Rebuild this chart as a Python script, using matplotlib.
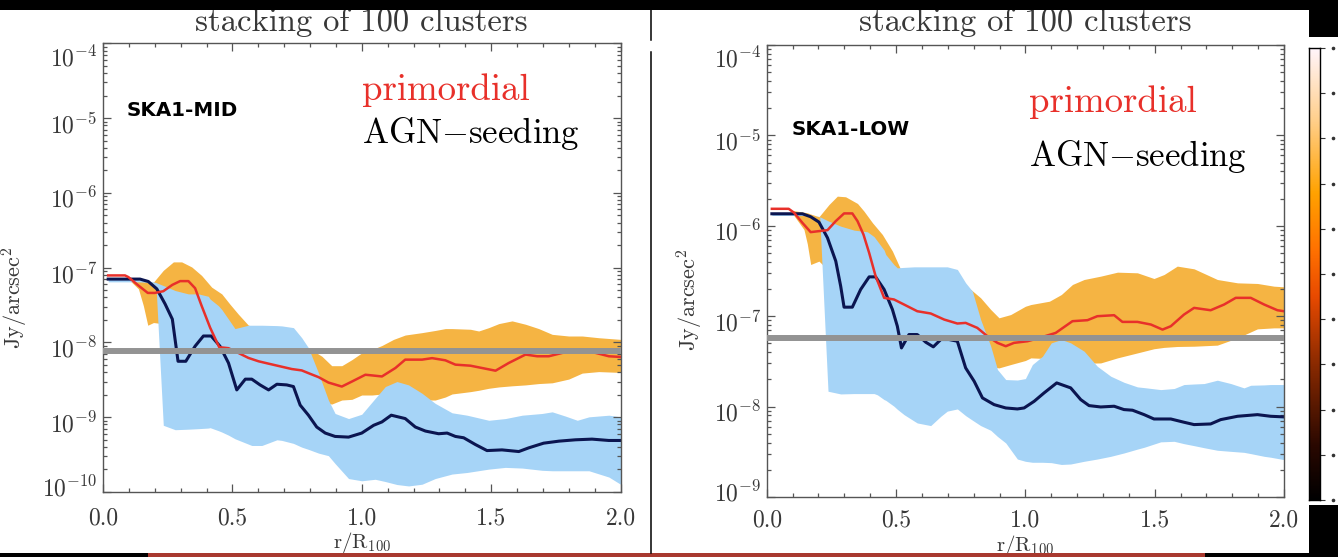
import numpy as np
import matplotlib
matplotlib.use("Agg")
import matplotlib.pyplot as plt
from matplotlib.colors import LinearSegmentedColormap
from matplotlib.lines import Line2D
from matplotlib.patches import Rectangle
from matplotlib.ticker import LogLocator, MultipleLocator, FormatStrFormatter, NullFormatter
from matplotlib.transforms import ScaledTranslation

plt.rcParams['font.family'] = 'cmr10'
plt.rcParams['mathtext.fontset'] = 'cm'
plt.rcParams['axes.formatter.use_mathtext'] = True
plt.rcParams['axes.unicode_minus'] = False

# ---- data: log10(Jy/arcsec^2) vs r/R100 ----
# SKA1-MID
mid_agn_x = [0.02, 0.143, 0.175, 0.208, 0.24, 0.268, 0.29, 0.32, 0.356, 0.388, 0.418, 0.452,
             0.485, 0.517, 0.55, 0.575, 0.607, 0.64, 0.672, 0.71, 0.736, 0.762, 0.794, 0.826,
             0.859, 0.897, 0.949, 1.0, 1.046, 1.078, 1.114, 1.168, 1.207, 1.246, 1.297, 1.33,
             1.362, 1.394, 1.439, 1.484, 1.542, 1.607, 1.645, 1.703, 1.762, 1.826, 1.89, 1.955, 2.0]
mid_agn = [-7.153, -7.153, -7.185, -7.284, -7.486, -7.689, -8.252, -8.252, -8.050, -7.914, -7.914,
           -8.050, -8.275, -8.635, -8.491, -8.491, -8.568, -8.635, -8.559, -8.568, -8.590, -8.838,
           -8.973, -9.131, -9.212, -9.257, -9.266, -9.212, -9.108, -9.063, -8.973, -9.018, -9.131,
           -9.185, -9.221, -9.212, -9.257, -9.275, -9.365, -9.446, -9.437, -9.459, -9.410, -9.347,
           -9.320, -9.302, -9.293, -9.311, -9.311]

mid_prim_x = [0.02, 0.085, 0.098, 0.137, 0.173, 0.2, 0.233, 0.268, 0.298, 0.33, 0.356, 0.381,
              0.414, 0.449, 0.485, 0.523, 0.562, 0.601, 0.64, 0.685, 0.73, 0.768, 0.8, 0.833,
              0.871, 0.923, 0.962, 1.014, 1.04, 1.078, 1.13, 1.168, 1.233, 1.272, 1.323, 1.362,
              1.42, 1.465, 1.517, 1.568, 1.633, 1.678, 1.723, 1.775, 1.852, 1.904, 1.955, 2.0]
mid_prim = [-7.104, -7.104, -7.126, -7.239, -7.338, -7.338, -7.315, -7.230, -7.180, -7.180, -7.275,
            -7.509, -7.802, -8.063, -8.077, -8.140, -8.207, -8.252, -8.284, -8.320, -8.356, -8.374,
            -8.419, -8.464, -8.536, -8.590, -8.523, -8.432, -8.441, -8.455, -8.342, -8.230, -8.230,
            -8.210, -8.239, -8.297, -8.311, -8.342, -8.378, -8.275, -8.162, -8.185, -8.185, -8.140,
            -8.095, -8.140, -8.185, -8.194]

mid_prim_band_x = [0.09, 0.137, 0.156, 0.173, 0.195, 0.233, 0.272, 0.304, 0.343, 0.381, 0.42,
                   0.459, 0.49, 0.523, 0.562, 0.62, 0.70, 0.794, 0.846, 0.884, 0.923, 0.962, 1.0,
                   1.04, 1.078, 1.123, 1.168, 1.233, 1.284, 1.323, 1.349, 1.42, 1.452, 1.491, 1.53,
                   1.581, 1.633, 1.684, 1.736, 1.8, 1.852, 1.916, 2.0]
mid_prim_hi = [-7.117, -7.171, -7.18, -7.19, -7.194, -7.036, -6.923, -6.923, -6.991, -7.104, -7.261,
               -7.351, -7.486, -7.622, -7.770, -7.82, -7.91, -8.072, -8.185, -8.311, -8.311, -8.230,
               -8.140, -8.095, -8.041, -7.959, -7.901, -7.869, -7.84, -7.815, -7.815, -7.824, -7.847,
               -7.802, -7.748, -7.712, -7.757, -7.815, -7.892, -7.914, -7.914, -7.937, -7.959]
mid_prim_lo = [-7.126, -7.284, -7.509, -7.770, -7.734, -7.75, -7.8, -7.85, -7.9, -7.95, -8.05,
               -8.15, -8.25, -8.35, -8.45, -8.55, -8.65, -8.75, -8.80, -8.824, -8.770, -8.761,
               -8.703, -8.703, -8.690, -8.70, -8.74, -8.77, -8.770, -8.73, -8.689, -8.658, -8.64,
               -8.613, -8.595, -8.58, -8.568, -8.55, -8.54, -8.49, -8.410, -8.39, -8.401]

mid_agn_band_x = [0.02, 0.137, 0.188, 0.205, 0.233, 0.279, 0.33, 0.369, 0.407, 0.414, 0.446,
                  0.459, 0.485, 0.51, 0.562, 0.575, 0.614, 0.672, 0.691, 0.736, 0.768, 0.794,
                  0.833, 0.871, 0.897, 0.949, 1.0, 1.052, 1.091, 1.136, 1.181, 1.233, 1.284,
                  1.349, 1.407, 1.491, 1.555, 1.62, 1.697, 1.736, 1.788, 1.833, 1.878, 1.955, 2.0]
mid_agn_hi = [-7.14, -7.162, -7.185, -7.20, -7.239, -7.306, -7.351, -7.351, -7.383, -7.42, -7.509,
              -7.56, -7.689, -7.815, -7.770, -7.770, -7.770, -7.775, -7.779, -7.802, -7.937, -8.072,
              -8.410, -8.770, -8.950, -9.018, -8.96, -8.748, -8.590, -8.523, -8.568, -8.680, -8.815,
              -8.941, -8.973, -9.041, -9.018, -8.973, -8.950, -8.928, -8.986, -9.041, -8.995,
              -8.973, -8.995]
mid_agn_lo = [-7.19, -7.19, -7.20, -7.25, -9.108, -9.167, -9.16, -9.153, -9.145, -9.140, -9.18,
              -9.198, -9.24, -9.288, -9.36, -9.378, -9.378, -9.302, -9.31, -9.35, -9.40, -9.43,
              -9.48, -9.514, -9.62, -9.82, -9.85, -9.83, -9.86, -9.90, -9.919, -9.896, -9.82,
              -9.76, -9.739, -9.694, -9.671, -9.68, -9.71, -9.716, -9.716, -9.716, -9.716, -9.80,
              -9.896]
mid_noise = 7.8e-9

# SKA1-LOW
low_agn_x = [0.02, 0.138, 0.17, 0.202, 0.235, 0.267, 0.286, 0.299, 0.331, 0.363, 0.396, 0.421,
             0.454, 0.486, 0.505, 0.521, 0.55, 0.582, 0.615, 0.644, 0.673, 0.705, 0.737, 0.769,
             0.802, 0.834, 0.879, 0.924, 0.969, 0.995, 1.034, 1.072, 1.121, 1.175, 1.214, 1.246,
             1.291, 1.343, 1.381, 1.414, 1.459, 1.497, 1.562, 1.613, 1.652, 1.716, 1.755, 1.82,
             1.897, 1.948, 2.0]
low_agn = [-5.867, -5.867, -5.900, -5.959, -6.133, -6.391, -6.668, -6.900, -6.900, -6.705, -6.565,
           -6.565, -6.705, -6.926, -7.111, -7.351, -7.203, -7.203, -7.288, -7.339, -7.258, -7.258,
           -7.277, -7.572, -7.720, -7.904, -7.978, -8.015, -8.026, -8.015, -7.941, -7.849, -7.738,
           -7.793, -7.923, -7.989, -8.004, -7.996, -8.033, -8.040, -8.089, -8.137, -8.137, -8.173,
           -8.199, -8.192, -8.144, -8.107, -8.089, -8.107, -8.114]

low_prim_x = [0.02, 0.085, 0.106, 0.138, 0.17, 0.202, 0.235, 0.267, 0.299, 0.331, 0.351, 0.374,
              0.396, 0.421, 0.454, 0.492, 0.531, 0.582, 0.634, 0.686, 0.737, 0.769, 0.814, 0.853,
              0.892, 0.924, 0.956, 1.008, 1.046, 1.117, 1.182, 1.24, 1.278, 1.343, 1.375, 1.433,
              1.485, 1.53, 1.562, 1.613, 1.652, 1.716, 1.768, 1.813, 1.871, 1.923, 1.974, 2.0]
low_prim = [-5.812, -5.812, -5.856, -5.967, -6.070, -6.059, -6.048, -5.948, -5.863, -5.863, -5.948,
            -6.096, -6.299, -6.557, -6.797, -6.815, -6.871, -6.945, -6.970, -7.037, -7.081, -7.074,
            -7.129, -7.221, -7.295, -7.332, -7.295, -7.277, -7.247, -7.185, -7.055, -7.044, -7.0,
            -6.989, -7.063, -7.063, -7.092, -7.148, -7.111, -6.982, -6.908, -6.934, -6.871, -6.797,
            -6.797, -6.871, -6.934, -6.945]

low_prim_band_x = [0.093, 0.144, 0.157, 0.17, 0.202, 0.241, 0.273, 0.305, 0.351, 0.376, 0.409,
                   0.447, 0.486, 0.521, 0.57, 0.65, 0.72, 0.789, 0.827, 0.866, 0.898, 0.943, 1.0,
                   1.021, 1.093, 1.139, 1.182, 1.227, 1.291, 1.356, 1.433, 1.497, 1.536, 1.587,
                   1.652, 1.742, 1.82, 1.897, 1.961, 2.0]
low_prim_hi = [-5.827, -5.85, -5.856, -5.87, -5.900, -5.764, -5.672, -5.679, -5.753, -5.838, -5.967,
               -6.096, -6.280, -6.502, -6.52, -6.56, -6.62, -6.705, -6.797, -6.926, -7.018, -6.982,
               -6.89, -6.871, -6.834, -6.760, -6.649, -6.594, -6.557, -6.513, -6.520, -6.583, -6.539,
               -6.446, -6.476, -6.594, -6.631, -6.638, -6.668, -6.675]
low_prim_lo = [-5.838, -6.041, -6.2, -6.428, -6.391, -6.5, -6.6, -6.7, -6.8, -6.9, -7.0, -7.1,
               -7.2, -7.3, -7.35, -7.4, -7.45, -7.50, -7.54, -7.56, -7.572, -7.535, -7.49, -7.461,
               -7.47, -7.49, -7.51, -7.52, -7.517, -7.461, -7.406, -7.36, -7.345, -7.335, -7.332,
               -7.320, -7.24, -7.14, -7.129, -7.129]

low_agn_band_x = [0.02, 0.144, 0.196, 0.205, 0.237, 0.286, 0.338, 0.389, 0.415, 0.428, 0.454,
                  0.46, 0.492, 0.505, 0.531, 0.57, 0.582, 0.634, 0.673, 0.698, 0.737, 0.769,
                  0.795, 0.827, 0.866, 0.892, 0.924, 0.969, 1.0, 1.027, 1.066, 1.1, 1.139, 1.175,
                  1.227, 1.278, 1.33, 1.381, 1.433, 1.459, 1.523, 1.575, 1.613, 1.652, 1.691,
                  1.742, 1.794, 1.845, 1.871, 1.923, 1.948, 2.0]
low_agn_hi = [-5.856, -5.875, -5.893, -5.90, -5.945, -6.004, -6.048, -6.066, -6.12, -6.170, -6.27,
              -6.317, -6.43, -6.465, -6.46, -6.454, -6.454, -6.454, -6.454, -6.454, -6.483, -6.631,
              -6.723, -7.037, -7.332, -7.590, -7.701, -7.706, -7.69, -7.535, -7.443, -7.295, -7.258,
              -7.295, -7.387, -7.554, -7.664, -7.731, -7.782, -7.79, -7.812, -7.80, -7.756, -7.75,
              -7.745, -7.708, -7.745, -7.793, -7.764, -7.76, -7.756, -7.756]
low_agn_lo = [-5.886, -5.886, -5.89, -5.90, -7.830, -7.86, -7.856, -7.856, -7.856, -7.87, -7.923,
              -7.93, -7.996, -8.03, -8.089, -8.16, -8.181, -8.210, -8.107, -8.05, -8.026, -8.10,
              -8.15, -8.21, -8.262, -8.33, -8.402, -8.58, -8.605, -8.616, -8.616, -8.62, -8.64,
              -8.635, -8.605, -8.58, -8.55, -8.513, -8.47, -8.450, -8.39, -8.384, -8.41, -8.432,
              -8.455, -8.483, -8.495, -8.506, -8.52, -8.550, -8.56, -8.587]
low_noise = 5.7e-8

W, H = 1338, 557
ORANGE = '#f5b443'
LBLUE = '#a6d4f7'
NAVY = '#0b1550'
RED = '#e8302a'
GREY = '#939393'
TXT = '#383838'

fig = plt.figure(figsize=(W / 100, H / 100), dpi=100)
fig.patch.set_facecolor('white')


def fx(p):
    return p / W


def fy(p):
    return 1 - p / H


def panel(rect, band_p, band_a, line_p, line_a, noise, ymin, name, txt_pos):
    ax = fig.add_axes(rect)
    bx, blo, bhi = band_p
    ax.fill_between(bx, 10 ** np.array(blo), 10 ** np.array(bhi), color=ORANGE, lw=0, zorder=1)
    bx, blo, bhi = band_a
    ax.fill_between(bx, 10 ** np.array(blo), 10 ** np.array(bhi), color=LBLUE, lw=0, zorder=1.5)
    ax.plot(line_a[0], 10 ** np.array(line_a[1]), color=NAVY, lw=2.2, zorder=2)
    ax.plot(line_p[0], 10 ** np.array(line_p[1]), color=RED, lw=1.8, zorder=2.1)
    ax.plot([0, 2], [noise, noise], color=GREY, lw=4.3, zorder=3, solid_capstyle='butt')

    ax.set_yscale('log')
    ax.set_xlim(0, 2)
    ax.set_ylim(ymin, 1e-4)
    ax.set_yticks([10.0 ** k for k in range(int(round(np.log10(ymin))), -3)])
    ax.yaxis.set_minor_locator(LogLocator(base=10, subs=np.arange(2, 10)))
    ax.yaxis.set_minor_formatter(NullFormatter())
    ax.xaxis.set_major_locator(MultipleLocator(0.5))
    ax.xaxis.set_minor_locator(MultipleLocator(0.1))
    ax.xaxis.set_major_formatter(FormatStrFormatter('%.1f'))
    for s in ax.spines.values():
        s.set_color('#555555')
        s.set_linewidth(1.0)
    ax.tick_params(which='both', direction='in', top=True, right=True, color='#555555',
                   labelcolor=TXT, labelsize=17, width=0.9)
    ax.tick_params(which='major', length=6)
    ax.tick_params(which='minor', length=3)
    ax.tick_params(axis='x', pad=txt_pos['xpad'])
    ax.tick_params(axis='y', pad=4)

    # IDL-style label placement: inner labels centred on "10", end labels kept inside
    ticks = ax.yaxis.get_major_ticks()
    for i, t in enumerate(ticks):
        dy = -3.5
        if i == 0:
            dy = 4
        elif i == len(ticks) - 1:
            dy = -9
        t.label1.set_transform(t.label1.get_transform() +
                               ScaledTranslation(0, dy / 72, fig.dpi_scale_trans))

    ax.set_ylabel(r'$\mathrm{Jy/arcsec^2}$', fontsize=16, color=TXT)
    ax.set_xlabel(r'$\mathrm{r/R_{100}}$', fontsize=15, color=TXT)
    ax.yaxis.set_label_coords(txt_pos['ylab'][0], txt_pos['ylab'][1])
    ax.xaxis.set_label_coords(0.5, txt_pos['xlab'])

    ax.text(0.5, txt_pos['title'], 'stacking of 100 clusters', transform=ax.transAxes,
            ha='center', va='center', fontsize=23.5, color=TXT)
    ax.text(txt_pos['leg'][0], txt_pos['leg'][1], 'primordial', transform=ax.transAxes,
            ha='left', va='center', fontsize=26.5, color=RED)
    ax.text(txt_pos['leg'][0], txt_pos['leg'][2], r'AGN$-$seeding', transform=ax.transAxes,
            ha='left', va='center', fontsize=25, color='black')
    ax.text(txt_pos['name'][0], txt_pos['name'][1], name, transform=ax.transAxes,
            ha='left', va='center', fontsize=14.3, fontweight='bold',
            family='DejaVu Sans', color='black')
    return ax


ax1 = panel([fx(103), fy(492), 517.5 / W, 448.7 / H],
            (mid_prim_band_x, mid_prim_lo, mid_prim_hi),
            (mid_agn_band_x, mid_agn_lo, mid_agn_hi),
            (mid_prim_x, mid_prim), (mid_agn_x, mid_agn), mid_noise, 1e-10, 'SKA1-MID',
            {'ylab': (-0.141, 0.432), 'xlab': -0.085, 'title': 1.048, 'xpad': 11,
             'leg': (0.5005, 0.896, 0.798), 'name': (0.046, 0.851)})

ax2 = panel([fx(766.7), fy(497), 517.4 / W, 452 / H],
            (low_prim_band_x, low_prim_lo, low_prim_hi),
            (low_agn_band_x, low_agn_lo, low_agn_hi),
            (low_prim_x, low_prim), (low_agn_x, low_agn), low_noise, 1e-9, 'SKA1-LOW',
            {'ylab': (-0.12, 0.436), 'xlab': -0.079, 'title': 1.051, 'xpad': 9,
             'leg': (0.507, 0.874, 0.754), 'name': (0.049, 0.812)})

# colour bar sliver at the right edge
cmap = LinearSegmentedColormap.from_list('heat', [
    (0.0, '#000000'), (0.12, '#2a0800'), (0.3, '#8a2a00'), (0.45, '#e84a00'),
    (0.55, '#ff7000'), (0.68, '#ffa200'), (0.84, '#ffcf8a'), (1.0, '#fff5fb')])
cax = fig.add_axes([fx(1309), fy(500), 11 / W, 452 / H])
cax.imshow(np.linspace(0, 1, 256)[:, None], aspect='auto', cmap=cmap, origin='lower',
           extent=[0, 1, 0, 1])
cax.set_xticks([])
cax.yaxis.tick_right()
cax.set_yticks(np.linspace(0, 1, 11))
cax.set_yticklabels([])
cax.tick_params(axis='y', direction='out', length=3.5, width=0.8, color='#333333')
for s in cax.spines.values():
    s.set_color('black')
    s.set_linewidth(1.0)
for k in range(11):
    fig.add_artist(Line2D([fx(1333)], [fy(500 - 45.2 * k)], marker='o', ms=1.6, color='#333333',
                          lw=0))

# screenshot frame: black bands, panel divider
fig.add_artist(Rectangle((0, fy(10)), 1, 10 / H, color='black', lw=0))
fig.add_artist(Rectangle((fx(1309), fy(37)), (W - 1309) / W, 37 / H, color='black', lw=0))
fig.add_artist(Rectangle((fx(1309), 0), (W - 1309) / W, 52 / H, color='black', lw=0))
fig.add_artist(Rectangle((0, 0), fx(148), 4 / H, color='black', lw=0))
fig.add_artist(Rectangle((fx(148), 0), fx(1205 - 148), 4 / H, color='#a8392f', lw=0))
fig.add_artist(Rectangle((fx(1205), 0), fx(1309 - 1205), 4 / H, color='black', lw=0))
fig.add_artist(Line2D([fx(650.7)] * 2, [fy(10), fy(40)], color='black', lw=1.1))
fig.add_artist(Line2D([fx(650.7)] * 2, [fy(52), fy(553)], color='black', lw=1.1))

fig.savefig('out.png', dpi=100)
